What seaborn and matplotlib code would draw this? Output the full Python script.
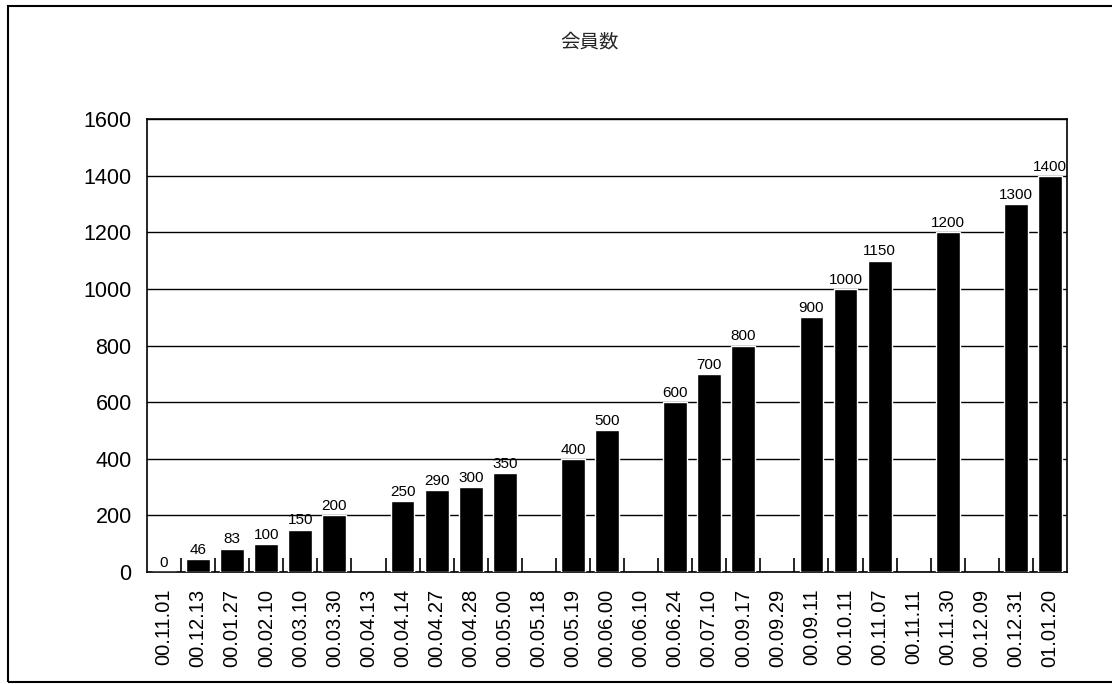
import numpy as np
import pandas as pd
import matplotlib.pyplot as plt
from matplotlib.patches import Rectangle
import seaborn as sns

# data
dates = ['00.11.01', '00.12.13', '00.01.27', '00.02.10', '00.03.10', '00.03.30',
         '00.04.13', '00.04.14', '00.04.27', '00.04.28', '00.05.00', '00.05.18',
         '00.05.19', '00.06.00', '00.06.10', '00.06.24', '00.07.10', '00.09.17',
         '00.09.29', '00.09.11', '00.10.11', '00.11.07', '00.11.11', '00.11.30',
         '00.12.09', '00.12.31', '01.01.20']
members = [0, 46, 83, 100, 150, 200,
           np.nan, 250, 290, 300, 350, np.nan,
           400, 500, np.nan, 600, 700, 800,
           np.nan, 900, 1000, 1100, np.nan, 1200,
           np.nan, 1300, 1400]
# printed labels (the 00.11.07 bar is drawn at 1100 but labelled 1150)
value_labels = ['0', '46', '83', '100', '150', '200',
                '', '250', '290', '300', '350', '',
                '400', '500', '', '600', '700', '800',
                '', '900', '1000', '1150', '', '1200',
                '', '1300', '1400']
y_ticks = [0, 200, 400, 600, 800, 1000, 1200, 1400, 1600]
title = '会員数'

sns.set_style('white')
plt.rcParams['font.family'] = ['Liberation Sans', 'Noto Sans CJK JP', 'DejaVu Sans']

df = pd.DataFrame({'date': dates, 'members': members})

fig = plt.figure(figsize=(11.12, 6.84), dpi=100)
ax = fig.add_axes([147 / 1112, 1 - 572 / 684, 920 / 1112, 453 / 684])

sns.barplot(data=df, x='date', y='members', order=dates, color='black',
            saturation=1, width=0.7, errorbar=None, ax=ax, zorder=3)

# value labels above bars
for i, (v, lab) in enumerate(zip(members, value_labels)):
    if lab:
        ax.annotate(lab, (i, v), xytext=(0, 1.5), textcoords='offset points',
                    ha='center', va='bottom', fontsize=11, color='black', zorder=4)

ax.set_xlim(-0.5, len(dates) - 0.5)
ax.set_ylim(0, 1600)
ax.set_yticks(y_ticks)
ax.set_xlabel('')
ax.set_ylabel('')

ax.yaxis.grid(True, color='black', linewidth=1)
ax.xaxis.grid(False)
ax.set_axisbelow(True)
for s in ax.spines.values():
    s.set_visible(True)
    s.set_color('black')
    s.set_linewidth(1.2)

ax.tick_params(axis='y', length=0, pad=11, labelsize=15.5, colors='black')
ax.tick_params(axis='x', which='major', bottom=True, length=0, pad=12,
               labelsize=14.5, labelrotation=90, colors='black')
# small inward tick marks between categories
ax.set_xticks(np.arange(0.5, len(dates) - 1, 1), minor=True)
ax.tick_params(axis='x', which='minor', bottom=True, direction='in', length=10,
               width=1.2, color='black')

fig.text(590 / 1112, 1 - 42 / 684, title, ha='center', va='center', fontsize=14,
         family=['Noto Sans CJK JP', 'DejaVu Sans'])

# outer frame around the whole chart
fig.patches.append(Rectangle((8 / 1112, 1 - 682 / 684), 1.2, (682 - 6) / 684,
                             transform=fig.transFigure, fill=False,
                             edgecolor='black', linewidth=1.5))

fig.savefig('out.png', dpi=100)
